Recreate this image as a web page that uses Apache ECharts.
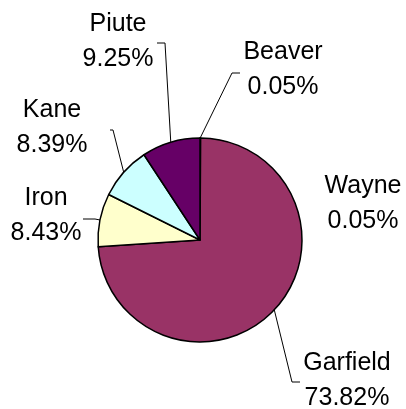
<!DOCTYPE html>
<html>
<head>
<meta charset="utf-8">
<script src="https://cdn.jsdelivr.net/npm/echarts@6/dist/echarts.min.js"></script>
<style>html,body{margin:0;padding:0;background:#fff}#c{width:406px;height:409px}</style>
</head>
<body>
<div id="c"></div>
<script>
var categories = ['Beaver', 'Wayne', 'Garfield', 'Iron', 'Kane', 'Piute'];
var percents = [0.05, 0.05, 73.82, 8.43, 8.39, 9.25];
var colors = ['#9999FF', '#FFFFCC', '#993366', '#FFFFCC', '#CCFFFF', '#660066'];

// label layout (pixel positions of label centre, leader-line bend and end)
var labelCenters = [[283, 70], [363, 204], [347, 381], [46, 216], [52, 128], [118, 42]];
var lineBends = [[232, 73], null, [292, 382], [95, 219], [113, 130], [165, 43]];
var lineEnds = [[240, 73], null, [300, 382], [83, 219], [110, 130], [157, 43]];

var cx = 200, cy = 240, R = 102;

var chart = echarts.init(document.getElementById('c'), null, {renderer: 'canvas'});
var data = categories.map(function (n, i) {
  return {
    name: n, value: percents[i],
    itemStyle: {color: colors[i]},
    labelLine: {show: lineBends[i] !== null}
  };
});

chart.setOption({
  animation: false,
  series: [{
    type: 'pie',
    center: [cx, cy],
    radius: [0, R],
    startAngle: 90,
    clockwise: true,
    avoidLabelOverlap: false,
    minAngle: 0,
    data: data,
    itemStyle: {borderColor: '#000', borderWidth: 1.5},
    label: {
      show: true,
      position: 'outside',
      formatter: function (p) { return p.name + '\n' + p.value.toFixed(2) + '%'; },
      fontFamily: 'Liberation Sans, Arial, sans-serif',
      fontSize: 25,
      lineHeight: 35,
      color: '#000',
      align: 'center'
    },
    labelLine: {show: true, lineStyle: {color: '#000', width: 1}, length: 10, length2: 10},
    labelLayout: function (p) {
      var i = p.dataIndex;
      var res = {
        x: labelCenters[i][0],
        y: labelCenters[i][1],
        align: 'center',
        verticalAlign: 'middle'
      };
      if (lineBends[i]) {
        var start = p.labelLinePoints ? p.labelLinePoints[0] : null;
        if (!start) {
          var cum = 0;
          for (var k = 0; k < i; k++) cum += percents[k];
          var total = percents.reduce(function (a, b) { return a + b; }, 0);
          var mid = (cum + percents[i] / 2) / total * 2 * Math.PI;
          start = [cx + R * Math.sin(mid), cy - R * Math.cos(mid)];
        }
        res.labelLinePoints = [start, lineBends[i], lineEnds[i]];
      }
      return res;
    }
  }]
});
</script>
</body>
</html>
